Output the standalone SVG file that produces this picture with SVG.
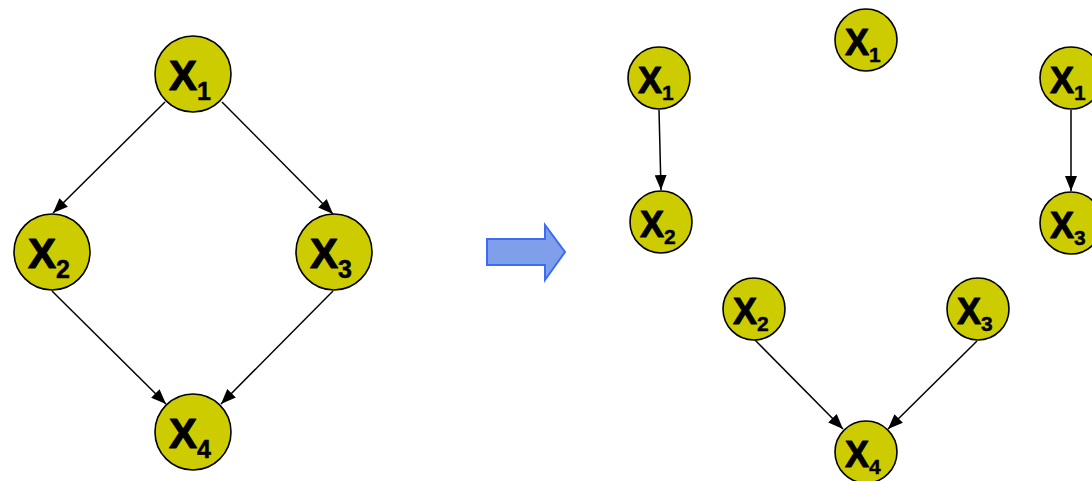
<svg xmlns="http://www.w3.org/2000/svg" width="1092" height="481" viewBox="0 0 1092 481">
<defs>
<marker id="ah" viewBox="0 0 15 12" refX="15" refY="6" markerWidth="15" markerHeight="12" markerUnits="userSpaceOnUse" orient="auto">
<path d="M0,0 L15,6 L0,12 z" fill="#000"/>
</marker>
<style>
.n{fill:#cccc00;stroke:#000;stroke-width:1.6}
.e{stroke:#000;stroke-width:1.5;fill:none;marker-end:url(#ah)}
.tl{font-family:"Liberation Sans",Arial,sans-serif;font-weight:bold;font-size:42px;fill:#000;stroke:#000;stroke-width:1.2;stroke-linejoin:round}
.tl .s{font-size:25px;stroke-width:0.5}
.tr{font-family:"Liberation Sans",Arial,sans-serif;font-weight:bold;font-size:36px;fill:#000;stroke:#000;stroke-width:1;stroke-linejoin:round}
.tr .s{font-size:21px;stroke-width:0.4}
</style>
</defs>
<g id="connectors">
<line class="e" x1="165" y1="102" x2="53" y2="213"/>
<line class="e" x1="222" y1="102" x2="333" y2="214"/>
<line class="e" x1="52" y1="291" x2="166" y2="404"/>
<line class="e" x1="333" y1="291" x2="221" y2="404"/>
<line class="e" x1="659" y1="110" x2="661" y2="190"/>
<line class="e" x1="1071" y1="110" x2="1071" y2="191"/>
<line class="e" x1="755" y1="340" x2="843" y2="429"/>
<line class="e" x1="977" y1="341" x2="888" y2="429"/>
</g>
<g id="bigarrow">
<path d="M487,239 L545,239 L545,225 L565,252 L545,280 L545,265 L487,265 Z" fill="#7f9fea" stroke="#3b6cf6" stroke-width="2"/>
</g>
<g id="L_X1"><circle class="n" cx="193" cy="74" r="38"/><text class="tl" x="169" y="90">X<tspan class="s" dy="10">1</tspan></text></g>
<g id="L_X2"><circle class="n" cx="52" cy="252" r="38"/><text class="tl" x="28" y="268">X<tspan class="s" dy="10">2</tspan></text></g>
<g id="L_X3"><circle class="n" cx="334" cy="252" r="38"/><text class="tl" x="310" y="268">X<tspan class="s" dy="10">3</tspan></text></g>
<g id="L_X4"><circle class="n" cx="193" cy="432" r="38"/><text class="tl" x="169" y="448">X<tspan class="s" dy="10">4</tspan></text></g>
<g id="R_X1a"><circle class="n" cx="659" cy="78" r="31"/><text class="tr" x="638" y="93">X<tspan class="s" dy="7">1</tspan></text></g>
<g id="R_X2a"><circle class="n" cx="661" cy="222" r="31"/><text class="tr" x="640" y="237">X<tspan class="s" dy="7">2</tspan></text></g>
<g id="R_X1b"><circle class="n" cx="866" cy="40" r="31"/><text class="tr" x="845" y="55">X<tspan class="s" dy="7">1</tspan></text></g>
<g id="R_X1c"><circle class="n" cx="1071" cy="78" r="31"/><text class="tr" x="1050" y="93">X<tspan class="s" dy="7">1</tspan></text></g>
<g id="R_X3c"><circle class="n" cx="1071" cy="223" r="31"/><text class="tr" x="1050" y="238">X<tspan class="s" dy="7">3</tspan></text></g>
<g id="R_X2d"><circle class="n" cx="754" cy="309" r="31"/><text class="tr" x="733" y="324">X<tspan class="s" dy="7">2</tspan></text></g>
<g id="R_X3d"><circle class="n" cx="978" cy="309" r="31"/><text class="tr" x="957" y="324">X<tspan class="s" dy="7">3</tspan></text></g>
<g id="R_X4d"><circle class="n" cx="866" cy="452" r="31"/><text class="tr" x="845" y="467">X<tspan class="s" dy="7">4</tspan></text></g>
</svg>
